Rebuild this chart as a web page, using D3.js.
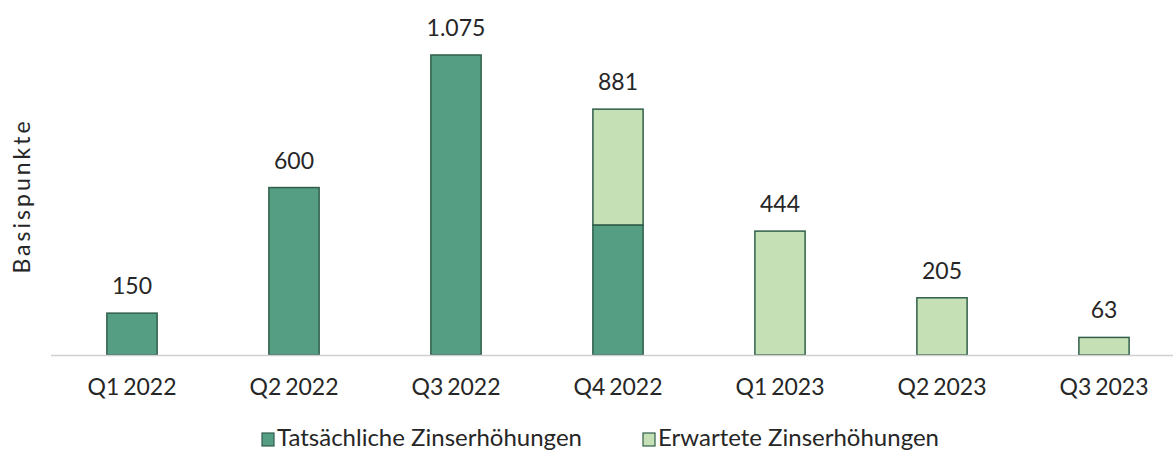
<!DOCTYPE html>
<html>
<head>
<meta charset="utf-8">
<script src="https://cdn.jsdelivr.net/npm/d3@7"></script>
<style>
  body { margin: 0; background: #fff; }
  text { font-family: Lato, "Open Sans", sans-serif; fill: #262626; }
</style>
</head>
<body>
<div id="chart-area"></div>
<script>
// data
var quarters = ["Q1 2022", "Q2 2022", "Q3 2022", "Q4 2022", "Q1 2023", "Q2 2023", "Q3 2023"];
var actual = [150, 600, 1075, 466, 0, 0, 0];
var expected = [0, 0, 0, 415, 444, 205, 63];
var seriesNames = ["Tatsächliche Zinserhöhungen", "Erwartete Zinserhöhungen"];
var colors = ["#559e83", "#c5e0b4"];

var width = 1173, height = 452;
var baseY = 355;

var svg = d3.select("#chart-area").append("svg")
  .attr("width", width)
  .attr("height", height);

var x = d3.scaleBand()
  .domain(quarters)
  .range([51, 1185])
  .paddingInner(0.69)
  .paddingOuter(0.345);

var y = d3.scaleLinear()
  .domain([0, 1075])
  .range([baseY, 55]);

var rows = quarters.map(function(q, i) {
  return { q: q, actual: actual[i], expected: expected[i] };
});
var stack = d3.stack().keys(["actual", "expected"])(rows);

// bars
svg.selectAll("g.series")
  .data(stack)
  .enter().append("g")
  .attr("class", "series")
  .attr("fill", function(d, i) { return colors[i]; })
  .selectAll("rect")
  .data(function(d) { return d.filter(function(p) { return p[1] - p[0] > 0; }); })
  .enter().append("rect")
  .attr("x", function(d) { return x(d.data.q); })
  .attr("y", function(d) { return y(d[1]); })
  .attr("width", x.bandwidth())
  .attr("height", function(d) { return y(d[0]) - y(d[1]); })
  .attr("stroke", "#2f5e4a")
  .attr("stroke-width", 1.5);

// axis line
svg.append("line")
  .attr("x1", 51).attr("x2", width)
  .attr("y1", baseY + 0.5).attr("y2", baseY + 0.5)
  .attr("stroke", "#d0d0d0")
  .attr("stroke-width", 1.5);

// x tick labels
var xAxis = d3.axisBottom(x).tickSize(0).tickPadding(24);
var gx = svg.append("g")
  .attr("transform", "translate(0," + baseY + ")")
  .call(xAxis);
gx.select(".domain").remove();
gx.selectAll("text")
  .style("font-size", "23px")
  .style("font-family", "Lato, sans-serif")
  .style("word-spacing", "-2px")
  .attr("fill", "#262626");

// totals above bars
var fmt = d3.formatLocale({ decimal: ",", thousands: ".", grouping: [3], currency: ["", "€"] }).format(",");
svg.selectAll("text.total")
  .data(rows)
  .enter().append("text")
  .attr("class", "total")
  .attr("x", function(d) { return x(d.q) + x.bandwidth() / 2; })
  .attr("y", function(d) { return y(d.actual + d.expected) - 19; })
  .attr("text-anchor", "middle")
  .style("font-size", "23px")
  .text(function(d) { return fmt(d.actual + d.expected); });

// y axis title
svg.append("text")
  .attr("transform", "translate(30,196) rotate(-90)")
  .attr("text-anchor", "middle")
  .style("font-size", "23px")
  .style("letter-spacing", "3px")
  .text("Basispunkte");

// legend
var legendX = [262, 643];
var lg = svg.selectAll("g.legend")
  .data(seriesNames)
  .enter().append("g")
  .attr("class", "legend")
  .attr("transform", function(d, i) { return "translate(" + legendX[i] + ",438)"; });
lg.append("rect")
  .attr("x", 0).attr("y", -5)
  .attr("width", 12).attr("height", 13)
  .attr("fill", function(d, i) { return colors[i]; })
  .attr("stroke", "#2f5e4a")
  .attr("stroke-width", 1.2);
lg.append("text")
  .attr("x", 15)
  .attr("y", 8)
  .style("font-size", "24px")
  .text(function(d) { return d; });
</script>
</body>
</html>
